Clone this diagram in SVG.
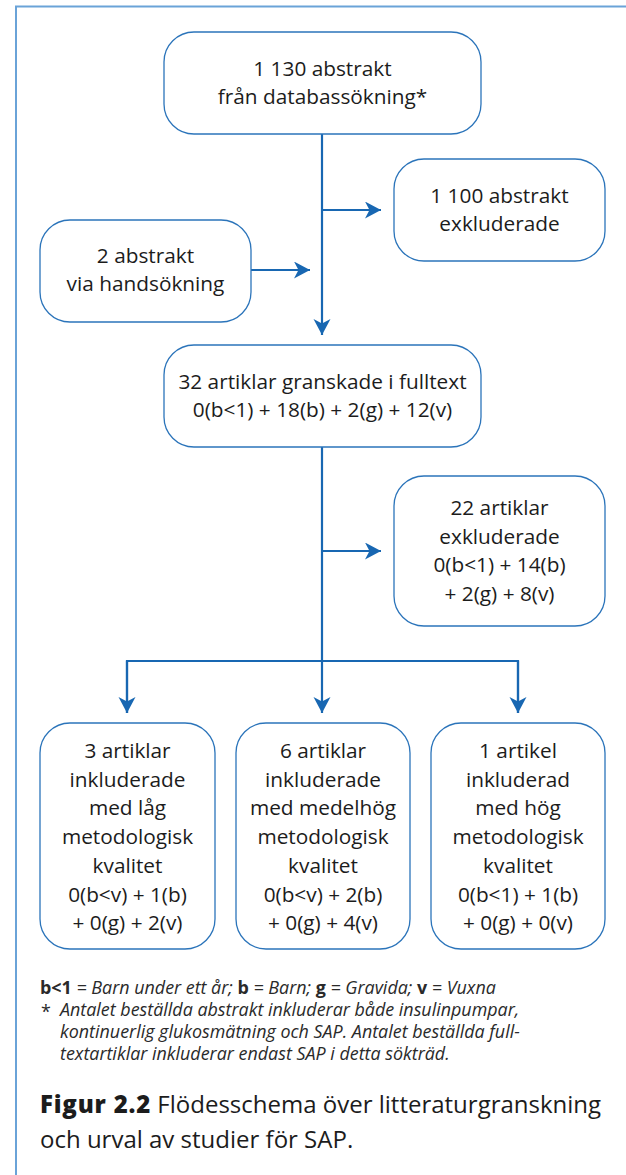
<svg xmlns="http://www.w3.org/2000/svg" width="626" height="1175" viewBox="0 0 626 1175">
  <style>
    .box { fill: #ffffff; stroke: #2b74ba; stroke-width: 1.3; }
    .link { fill: none; stroke: #1867b2; stroke-width: 2.2; }
    .lbl { font-family: "Open Sans", Lato, sans-serif; font-size: 20.8px; fill: #1c1c1c; text-anchor: middle; }
    .note { font-family: "Open Sans", Lato, sans-serif; font-size: 17.9px; fill: #2a2a2a; font-style: italic; }
    .note .k { font-style: normal; font-weight: bold; }
    .cap { font-family: "Open Sans", Lato, sans-serif; font-size: 24px; fill: #1c1c1c; }
  </style>
  <defs>
    <marker id="arrow" markerUnits="userSpaceOnUse" markerWidth="18" markerHeight="18" refX="16" refY="8.5" orient="auto">
      <path d="M0,0 L16,8.5 L0,17 L4.5,8.5 Z" fill="#1867b2"/>
    </marker>
  </defs>

  <!-- frame -->
  <path d="M626,6.5 H16 V1175" fill="none" stroke="#6aa3d8" stroke-width="2"/>

  <!-- connectors -->
  <g id="connectors">
    <line class="link" x1="322" y1="134" x2="322" y2="335" marker-end="url(#arrow)"/>
    <line class="link" x1="322" y1="210" x2="381" y2="210" marker-end="url(#arrow)"/>
    <line class="link" x1="251" y1="270" x2="310" y2="270" marker-end="url(#arrow)"/>
    <line class="link" x1="322" y1="447" x2="322" y2="713" marker-end="url(#arrow)"/>
    <line class="link" x1="322" y1="551" x2="381" y2="551" marker-end="url(#arrow)"/>
    <path class="link" d="M127,713 V661 H518 V713"/>
    <line class="link" x1="127" y1="661" x2="127" y2="713" marker-end="url(#arrow)"/>
    <line class="link" x1="518" y1="661" x2="518" y2="713" marker-end="url(#arrow)"/>
  </g>

  <g id="node-database">
    <rect class="box" x="164" y="32" width="317" height="102" rx="30"/>
    <text class="lbl" x="322.5" y="76">1 130 abstrakt</text>
    <text class="lbl" x="322.5" y="104">från databassökning*</text>
  </g>

  <g id="node-excluded-abstracts">
    <rect class="box" x="394" y="159" width="211" height="102" rx="30"/>
    <text class="lbl" x="499.5" y="203">1 100 abstrakt</text>
    <text class="lbl" x="499.5" y="231">exkluderade</text>
  </g>

  <g id="node-handsearch">
    <rect class="box" x="40" y="220" width="211" height="102" rx="30"/>
    <text class="lbl" x="145.5" y="263">2 abstrakt</text>
    <text class="lbl" x="145.5" y="291">via handsökning</text>
  </g>

  <g id="node-fulltext">
    <rect class="box" x="164" y="345" width="317" height="102" rx="30"/>
    <text class="lbl" x="322.5" y="389">32 artiklar granskade i fulltext</text>
    <text class="lbl" x="322.5" y="417">0(b&lt;1) + 18(b) + 2(g) + 12(v)</text>
  </g>

  <g id="node-excluded-articles">
    <rect class="box" x="394" y="476" width="211" height="150" rx="30"/>
    <text class="lbl" x="499.5" y="515">22 artiklar</text>
    <text class="lbl" x="499.5" y="543.5">exkluderade</text>
    <text class="lbl" x="499.5" y="572">0(b&lt;1) + 14(b)</text>
    <text class="lbl" x="499.5" y="600.5">+ 2(g) + 8(v)</text>
  </g>

  <g id="node-low">
    <rect class="box" x="40" y="723" width="175" height="226" rx="30"/>
    <text class="lbl" x="127.5" y="758">3 artiklar</text>
    <text class="lbl" x="127.5" y="786.7">inkluderade</text>
    <text class="lbl" x="127.5" y="815.4">med låg</text>
    <text class="lbl" x="127.5" y="844">metodologisk</text>
    <text class="lbl" x="127.5" y="872.8">kvalitet</text>
    <text class="lbl" x="127.5" y="901.5">0(b&lt;v) + 1(b)</text>
    <text class="lbl" x="127.5" y="930">+ 0(g) + 2(v)</text>
  </g>

  <g id="node-medium">
    <rect class="box" x="236" y="723" width="174" height="226" rx="30"/>
    <text class="lbl" x="323" y="758">6 artiklar</text>
    <text class="lbl" x="323" y="786.7">inkluderade</text>
    <text class="lbl" x="323" y="815.4">med medelhög</text>
    <text class="lbl" x="323" y="844">metodologisk</text>
    <text class="lbl" x="323" y="872.8">kvalitet</text>
    <text class="lbl" x="323" y="901.5">0(b&lt;v) + 2(b)</text>
    <text class="lbl" x="323" y="930">+ 0(g) + 4(v)</text>
  </g>

  <g id="node-high">
    <rect class="box" x="431" y="723" width="174" height="226" rx="30"/>
    <text class="lbl" x="518" y="758">1 artikel</text>
    <text class="lbl" x="518" y="786.7">inkluderad</text>
    <text class="lbl" x="518" y="815.4">med hög</text>
    <text class="lbl" x="518" y="844">metodologisk</text>
    <text class="lbl" x="518" y="872.8">kvalitet</text>
    <text class="lbl" x="518" y="901.5">0(b&lt;1) + 1(b)</text>
    <text class="lbl" x="518" y="930">+ 0(g) + 0(v)</text>
  </g>

  <!-- legend and footnote -->
  <g id="footnote">
    <text class="note" x="40" y="994"><tspan class="k">b&lt;1</tspan> = Barn under ett år; <tspan class="k">b</tspan> = Barn; <tspan class="k">g</tspan> = Gravida; <tspan class="k">v</tspan> = Vuxna</text>
    <text class="note" x="41" y="1018" style="font-style:normal">*</text>
    <text class="note" x="60" y="1016">Antalet beställda abstrakt inkluderar både insulinpumpar,</text>
    <text class="note" x="60" y="1038">kontinuerlig glukosmätning och SAP. Antalet beställda full-</text>
    <text class="note" x="60" y="1060">textartiklar inkluderar endast SAP i detta sökträd.</text>
  </g>

  <!-- caption -->
  <g id="caption">
    <text class="cap" x="40" y="1113"><tspan font-weight="800" letter-spacing="0.8">Figur 2.2</tspan> Flödesschema över litteraturgranskning</text>
    <text class="cap" x="40" y="1148">och urval av studier för SAP.</text>
  </g>
</svg>
